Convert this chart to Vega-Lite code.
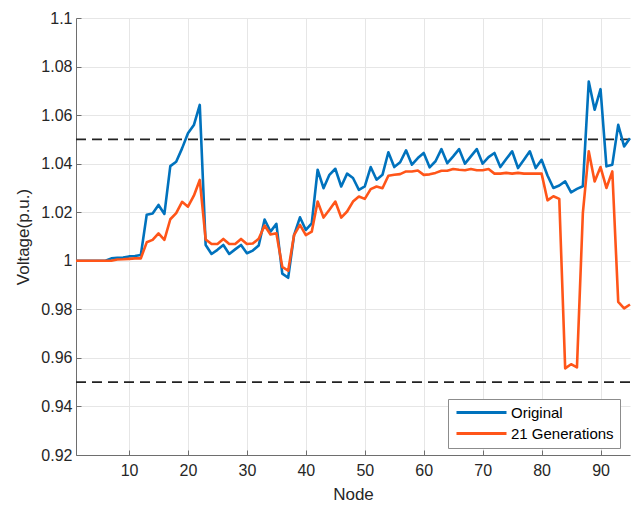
{
  "$schema": "https://vega.github.io/schema/vega-lite/v6.json",
  "width": 554,
  "height": 437,
  "autosize": {"type": "none"},
  "padding": {"left": 76, "top": 18, "right": 1, "bottom": 53},
  "background": "white",
  "config": {
    "font": "Liberation Sans",
    "view": {"stroke": null},
    "axis": {
      "domainColor": "#6e6e6e",
      "tickColor": "#6e6e6e",
      "gridColor": "#e6e6e6",
      "labelColor": "#262626",
      "titleColor": "#262626",
      "labelFontSize": 16,
      "titleFontSize": 17,
      "titleFontWeight": "normal",
      "labelFont": "Liberation Sans",
      "titleFont": "Liberation Sans"
    }
  },
  "layer": [
    {
      "data": {"values": [{"limit": 1.05}, {"limit": 0.95}]},
      "mark": {"type": "rule", "color": "#222222", "strokeWidth": 1.6, "strokeDash": [10, 6]},
      "encoding": {"y": {"field": "limit", "type": "quantitative", "scale": {"domain": [0.92, 1.1]}}}
    },
    {
      "data": {"values": [
        {"node": 1, "Original": 1.0, "21 Generations": 1.0},
        {"node": 2, "Original": 1.0, "21 Generations": 1.0},
        {"node": 3, "Original": 1.0, "21 Generations": 1.0},
        {"node": 4, "Original": 1.0, "21 Generations": 1.0},
        {"node": 5, "Original": 1.0, "21 Generations": 1.0},
        {"node": 6, "Original": 1.0, "21 Generations": 1.0},
        {"node": 7, "Original": 1.001, "21 Generations": 1.0},
        {"node": 8, "Original": 1.0012, "21 Generations": 1.0005},
        {"node": 9, "Original": 1.0013, "21 Generations": 1.0006},
        {"node": 10, "Original": 1.0018, "21 Generations": 1.0008},
        {"node": 11, "Original": 1.002, "21 Generations": 1.001},
        {"node": 12, "Original": 1.0024, "21 Generations": 1.001},
        {"node": 13, "Original": 1.019, "21 Generations": 1.0076},
        {"node": 14, "Original": 1.0195, "21 Generations": 1.0086},
        {"node": 15, "Original": 1.023, "21 Generations": 1.0113},
        {"node": 16, "Original": 1.0193, "21 Generations": 1.0086},
        {"node": 17, "Original": 1.039, "21 Generations": 1.0171},
        {"node": 18, "Original": 1.0408, "21 Generations": 1.0196},
        {"node": 19, "Original": 1.0463, "21 Generations": 1.0243},
        {"node": 20, "Original": 1.0525, "21 Generations": 1.0223},
        {"node": 21, "Original": 1.0559, "21 Generations": 1.0268},
        {"node": 22, "Original": 1.0642, "21 Generations": 1.0333},
        {"node": 23, "Original": 1.0065, "21 Generations": 1.0088},
        {"node": 24, "Original": 1.0028, "21 Generations": 1.0069},
        {"node": 25, "Original": 1.0045, "21 Generations": 1.0069},
        {"node": 26, "Original": 1.0065, "21 Generations": 1.009},
        {"node": 27, "Original": 1.0028, "21 Generations": 1.0069},
        {"node": 28, "Original": 1.0047, "21 Generations": 1.0069},
        {"node": 29, "Original": 1.0065, "21 Generations": 1.009},
        {"node": 30, "Original": 1.0031, "21 Generations": 1.0069},
        {"node": 31, "Original": 1.0042, "21 Generations": 1.0071},
        {"node": 32, "Original": 1.0063, "21 Generations": 1.0091},
        {"node": 33, "Original": 1.017, "21 Generations": 1.0145},
        {"node": 34, "Original": 1.012, "21 Generations": 1.0108},
        {"node": 35, "Original": 1.0152, "21 Generations": 1.0113},
        {"node": 36, "Original": 0.9947, "21 Generations": 0.9975},
        {"node": 37, "Original": 0.993, "21 Generations": 0.9959},
        {"node": 38, "Original": 1.0106, "21 Generations": 1.0106},
        {"node": 39, "Original": 1.0179, "21 Generations": 1.0148},
        {"node": 40, "Original": 1.0127, "21 Generations": 1.0106},
        {"node": 41, "Original": 1.0154, "21 Generations": 1.012},
        {"node": 42, "Original": 1.0375, "21 Generations": 1.0244},
        {"node": 43, "Original": 1.0299, "21 Generations": 1.0178},
        {"node": 44, "Original": 1.0354, "21 Generations": 1.021},
        {"node": 45, "Original": 1.0379, "21 Generations": 1.0244},
        {"node": 46, "Original": 1.0306, "21 Generations": 1.0178},
        {"node": 47, "Original": 1.0359, "21 Generations": 1.0203},
        {"node": 48, "Original": 1.0341, "21 Generations": 1.0244},
        {"node": 49, "Original": 1.0292, "21 Generations": 1.0265},
        {"node": 50, "Original": 1.0306, "21 Generations": 1.0255},
        {"node": 51, "Original": 1.0386, "21 Generations": 1.0295},
        {"node": 52, "Original": 1.0334, "21 Generations": 1.0306},
        {"node": 53, "Original": 1.0354, "21 Generations": 1.0299},
        {"node": 54, "Original": 1.0447, "21 Generations": 1.035},
        {"node": 55, "Original": 1.0386, "21 Generations": 1.0354},
        {"node": 56, "Original": 1.0406, "21 Generations": 1.0357},
        {"node": 57, "Original": 1.0455, "21 Generations": 1.0368},
        {"node": 58, "Original": 1.0396, "21 Generations": 1.0368},
        {"node": 59, "Original": 1.0423, "21 Generations": 1.0372},
        {"node": 60, "Original": 1.0444, "21 Generations": 1.0354},
        {"node": 61, "Original": 1.0385, "21 Generations": 1.0356},
        {"node": 62, "Original": 1.041, "21 Generations": 1.0362},
        {"node": 63, "Original": 1.046, "21 Generations": 1.0371},
        {"node": 64, "Original": 1.0402, "21 Generations": 1.0371},
        {"node": 65, "Original": 1.043, "21 Generations": 1.0378},
        {"node": 66, "Original": 1.046, "21 Generations": 1.0375},
        {"node": 67, "Original": 1.04, "21 Generations": 1.0373},
        {"node": 68, "Original": 1.043, "21 Generations": 1.0378},
        {"node": 69, "Original": 1.046, "21 Generations": 1.0373},
        {"node": 70, "Original": 1.04, "21 Generations": 1.0373},
        {"node": 71, "Original": 1.0427, "21 Generations": 1.0378},
        {"node": 72, "Original": 1.0444, "21 Generations": 1.0359},
        {"node": 73, "Original": 1.0386, "21 Generations": 1.0359},
        {"node": 74, "Original": 1.0419, "21 Generations": 1.0362},
        {"node": 75, "Original": 1.0451, "21 Generations": 1.0359},
        {"node": 76, "Original": 1.0382, "21 Generations": 1.0362},
        {"node": 77, "Original": 1.0416, "21 Generations": 1.0359},
        {"node": 78, "Original": 1.0451, "21 Generations": 1.0359},
        {"node": 79, "Original": 1.0382, "21 Generations": 1.0359},
        {"node": 80, "Original": 1.0416, "21 Generations": 1.0359},
        {"node": 81, "Original": 1.0351, "21 Generations": 1.0249},
        {"node": 82, "Original": 1.03, "21 Generations": 1.0266},
        {"node": 83, "Original": 1.031, "21 Generations": 1.0255},
        {"node": 84, "Original": 1.0327, "21 Generations": 0.9557},
        {"node": 85, "Original": 1.0282, "21 Generations": 0.9574},
        {"node": 86, "Original": 1.0296, "21 Generations": 0.9561},
        {"node": 87, "Original": 1.0307, "21 Generations": 1.0196},
        {"node": 88, "Original": 1.0738, "21 Generations": 1.0451},
        {"node": 89, "Original": 1.0622, "21 Generations": 1.0327},
        {"node": 90, "Original": 1.0707, "21 Generations": 1.0386},
        {"node": 91, "Original": 1.0389, "21 Generations": 1.03},
        {"node": 92, "Original": 1.0396, "21 Generations": 1.0368},
        {"node": 93, "Original": 1.056, "21 Generations": 0.9831},
        {"node": 94, "Original": 1.0471, "21 Generations": 0.9804},
        {"node": 95, "Original": 1.0505, "21 Generations": 0.982}
      ]},
      "transform": [{"fold": ["Original", "21 Generations"], "as": ["series", "v"]}],
      "mark": {"type": "line", "strokeWidth": 2.6, "strokeJoin": "round"},
      "encoding": {
        "x": {
          "field": "node", "type": "quantitative",
          "scale": {"domain": [1, 95], "nice": false, "zero": false},
          "axis": {"title": "Node", "values": [10, 20, 30, 40, 50, 60, 70, 80, 90], "tickSize": -5, "labelPadding": 12, "titlePadding": 8, "grid": true}
        },
        "y": {
          "field": "v", "type": "quantitative",
          "scale": {"domain": [0.92, 1.1], "nice": false, "zero": false},
          "axis": {"title": "Voltage(p.u.)", "values": [0.92, 0.94, 0.96, 0.98, 1.0, 1.02, 1.04, 1.06, 1.08, 1.1], "format": ".2~f", "tickSize": -5, "labelPadding": 9, "titlePadding": 8, "grid": true}
        },
        "color": {
          "field": "series", "type": "nominal",
          "scale": {"domain": ["Original", "21 Generations"], "range": ["#0072BD", "#FF5519"]},
          "legend": {
            "title": null, "orient": "none", "legendX": 372, "legendY": 381,
            "direction": "vertical",
            "strokeColor": "#8c8c8c", "fillColor": "white", "padding": 6,
            "symbolType": "M-1,0H9", "symbolSize": 100, "symbolStrokeWidth": 3,
            "labelOffset": 42,
            "labelFontSize": 15, "labelFont": "Liberation Sans", "labelColor": "#000000",
            "rowPadding": 5, "labelLimit": 300
          }
        },
        "order": {"field": "node", "type": "quantitative"}
      }
    }
  ]
}
